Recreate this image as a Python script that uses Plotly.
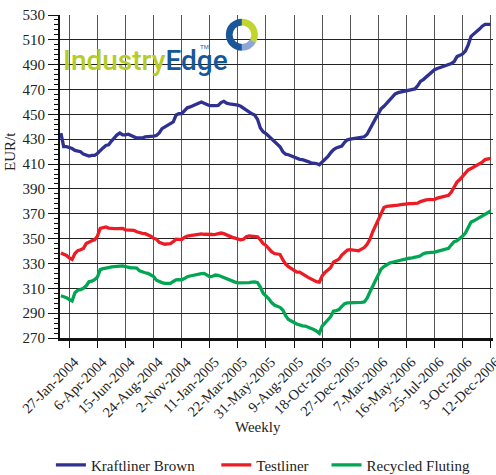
import pandas as pd
import plotly.graph_objects as go

# Weekly observations, Tuesdays from 6-Jan-2004 to 12-Dec-2006 (EUR/t)
weeks = pd.date_range("2004-01-06", "2006-12-12", freq="7D")

kraftliner_brown = [
    435, 424, 424, 423.5, 422.5, 421, 420.5, 420, 418, 417,
    416.5, 417, 417, 418.5, 421, 423, 425, 425.5, 428.5, 431,
    433.5, 435, 433.5, 433.5, 434, 433, 432, 431, 431, 431,
    432, 432, 432, 432.5, 433, 435, 438.5, 440, 441, 442.5,
    444, 449.5, 450.5, 450.6, 453, 455.3, 456, 457.2, 458, 459,
    460, 459.3, 458, 457, 456.8, 457, 457.3, 459.5, 460.5, 459,
    458.5, 458.3, 458.1, 457.5, 456.5, 455, 453.5, 451.5, 450.5, 449.5,
    446, 439, 436, 434.5, 432.5, 430, 428, 426.5, 424, 420,
    418, 417.5, 416.5, 415.5, 414.4, 413.8, 413.5, 413, 412, 411,
    410.8, 410.4, 409.5, 411.5, 414, 416, 419, 421.5, 423, 424,
    424.5, 427.5, 429.5, 430, 430.3, 430.5, 431, 431.5, 432, 434,
    438.6, 442.5, 446.6, 450.5, 454.6, 456.5, 459, 461.5, 464, 466.5,
    467.5, 468, 468.3, 468.5, 469.3, 469.9, 470.5, 473, 476.5, 478,
    480, 481.5, 484, 486, 487, 487.7, 488.5, 489.3, 490, 491,
    492.5, 496.5, 497.5, 498.7, 501, 506, 512.8, 514.5, 516.5, 518.7,
    521, 522.5, 522.5, 522.5,
]

testliner = [
    338.5, 337.5, 336.5, 334.5, 333.2, 338, 340.3, 341, 342, 346,
    347.5, 348.3, 349, 352, 358.2, 359, 359.4, 358.5, 358, 358,
    358.1, 358.3, 358.3, 357, 356.7, 356.7, 356.7, 355.5, 354.7, 354.3,
    354, 353, 352, 350.2, 349.5, 347, 346.3, 345.5, 345.8, 346,
    347.5, 349.5, 349.4, 349.3, 351, 352.1, 352.4, 352.7, 353.2, 353.6,
    353.8, 353.5, 353.3, 353.3, 353.3, 353.5, 354, 354.5, 354, 352.8,
    352, 351, 350.4, 349.5, 349, 349.5, 351.5, 352.1, 352.1, 352,
    351.5, 349, 346, 344.5, 342, 339.5, 338, 337.7, 337.3, 333,
    329.5, 327.5, 326, 324, 323.1, 323.1, 322, 320.2, 318.8, 317.5,
    316.2, 315.3, 315, 320, 322.7, 324.5, 326.5, 331, 332, 333.5,
    336.8, 339, 340.8, 341.1, 341, 340.7, 340.2, 341.5, 342.8, 345.5,
    349.5, 355.5, 360.5, 366, 371, 375, 376, 376.2, 376.1, 376.3,
    377, 377.4, 377.8, 378.2, 378.2, 378.2, 378.2, 378.6, 379.8, 380.8,
    381.2, 381.4, 381.5, 381.6, 382.6, 383.2, 383.8, 384.2, 384.9, 387.5,
    391.5, 395.5, 397.5, 400, 403, 405.3, 406.5, 407.8, 408.8, 409.7,
    411.5, 413.6, 414.3, 414.5,
]

recycled_fluting = [
    304, 303.3, 302.5, 301, 299.8, 306.5, 308.5, 309, 310, 312,
    315.3, 315.8, 317, 319, 325, 325.8, 326.5, 326.7, 327.2, 327.5,
    328, 328.2, 328, 327.5, 326.8, 326.4, 326.4, 326.3, 324, 323,
    322.5, 322, 320.8, 319.5, 316.5, 315.4, 314.6, 314, 313.8, 314,
    315.5, 316.8, 316.9, 316.9, 317.8, 319.3, 319.9, 320.5, 321, 321.2,
    321.8, 322, 320.5, 319.3, 319.7, 320.7, 320.5, 319.5, 318.8, 318,
    317, 315.8, 315, 314.4, 314.3, 314.4, 314.5, 314.6, 315, 315.1,
    314.5, 311, 306, 304, 301.5, 298.5, 296.5, 295.5, 294.7, 292.5,
    288, 285, 283.5, 282.5, 281.3, 280.5, 279.8, 279.6, 278.8, 278,
    276.8, 275.5, 273.8, 279.5, 282.5, 284.5, 287, 291.6, 292, 292.8,
    295.5, 297.6, 298.2, 298.2, 298.2, 298.3, 298.5, 298.7, 299, 302,
    307, 312, 317, 321, 325.5, 327.5, 329.3, 330.3, 331, 331.6,
    332, 332.6, 333.2, 333.9, 334.2, 334.5, 334.7, 335.5, 336.2, 337.8,
    338.5, 338.6, 338.7, 339.2, 339.8, 340.5, 341, 341.5, 342.2, 345,
    347.5, 348.3, 350, 352, 354.5, 359.5, 363.3, 364.3, 365.7, 366.7,
    368, 369.8, 371.3, 372.2,
]

tick_dates = [
    "2004-01-27", "2004-04-06", "2004-06-15", "2004-08-24", "2004-11-02",
    "2005-01-11", "2005-03-22", "2005-05-31", "2005-08-09", "2005-10-18",
    "2005-12-27", "2006-03-07", "2006-05-16", "2006-07-25", "2006-10-03",
    "2006-12-12",
]
tick_labels = [
    "27-Jan-2004", "6-Apr-2004", "15-Jun-2004", "24-Aug-2004", "2-Nov-2004",
    "11-Jan-2005", "22-Mar-2005", "31-May-2005", "9-Aug-2005", "18-Oct-2005",
    "27-Dec-2005", "7-Mar-2006", "16-May-2006", "25-Jul-2006", "3-Oct-2006",
    "12-Dec-2006",
]

series_names = ["Kraftliner Brown", "Testliner", "Recycled Fluting"]
series_values = [kraftliner_brown, testliner, recycled_fluting]
series_colors = ["#2e3192", "#ed1c24", "#00a651"]
series_legends = ["legend", "legend2", "legend3"]

# ring of the brand mark: green arc, pale-blue arc, dark-blue arc
ring_parts = [120, 60, 180]
ring_colors = ["#c2d52c", "#8ea6d6", "#1b5798"]

SERIF = "Liberation Serif"

fig = go.Figure()
for name, vals, color, leg in zip(series_names, series_values, series_colors, series_legends):
    fig.add_trace(go.Scatter(
        x=weeks, y=vals, mode="lines", name=name, legend=leg,
        line=dict(color=color, width=3.3),
    ))

fig.add_trace(go.Pie(
    values=ring_parts, marker=dict(colors=ring_colors, line=dict(width=0)),
    hole=0.58, sort=False, direction="clockwise", rotation=0,
    textinfo="none", hoverinfo="skip", showlegend=False,
    domain=dict(x=[0.383, 0.457], y=[0.888, 0.99]),
))

legend_common = dict(
    orientation="h", yanchor="middle", xanchor="left",
    yref="container", y=0.021,
    bgcolor="rgba(0,0,0,0)", font=dict(family=SERIF, size=15, color="#222"),
    itemwidth=30,
)

fig.update_layout(
    width=496, height=475,
    margin=dict(l=60, r=3, t=15, b=137),
    paper_bgcolor="white", plot_bgcolor="white",
    font=dict(family=SERIF, size=15, color="#222"),
    legend=dict(x=-0.021, **legend_common),
    legend2=dict(x=0.361, **legend_common),
    legend3=dict(x=0.6155, **legend_common),
    xaxis=dict(
        type="date", automargin=False, ticklabeloverflow="allow",
        range=["2004-01-03 19:00", "2006-12-17 18:00"],
        tickvals=tick_dates, ticktext=tick_labels, tickangle=-45,
        ticklabelshift=5,
        tickfont=dict(family=SERIF, size=14.5, color="#222"),
        ticks="outside", ticklen=7, tickwidth=1.3, tickcolor="#111",
        showgrid=True, gridcolor="#555", gridwidth=1.3,
        showline=True, linecolor="#111", linewidth=2.5,
        zeroline=False,
    ),
    yaxis=dict(
        range=[270, 530], tick0=270, dtick=20, automargin=False,
        tickfont=dict(family=SERIF, size=15, color="#222"),
        ticks="outside", ticklen=10, tickwidth=1.3, tickcolor="#111",
        showgrid=True, gridcolor="#222", gridwidth=1,
        showline=True, linecolor="#111", linewidth=2,
        zeroline=False,
        minor=dict(dtick=4, tick0=270, ticks="outside", ticklen=4,
                   tickwidth=1, tickcolor="#111", showgrid=False),
    ),
    annotations=[
        dict(text="EUR/t", textangle=-90, x=-0.1155, y=0.579, xref="paper", yref="paper",
             xanchor="center", yanchor="middle",
             showarrow=False, font=dict(family=SERIF, size=15, color="#222")),
        dict(text="Weekly", x=0.457, y=-0.2755, xref="paper", yref="paper",
             xanchor="center", yanchor="middle",
             showarrow=False, font=dict(family=SERIF, size=15, color="#222")),
        dict(text="<span style='color:#b5cd24'>Industry</span><span style='color:#14579b'>Edge</span>",
             x=0.003, y=0.86, xref="paper", yref="paper", xanchor="left", yanchor="middle",
             showarrow=False, font=dict(family="Roboto", size=28, weight=500)),
        dict(text="TM", x=0.318, y=0.9, xref="paper", yref="paper", xanchor="left",
             yanchor="middle", showarrow=False,
             font=dict(family="Liberation Sans", size=6, color="#14579b")),
    ],
)

fig.write_html("out.html")
